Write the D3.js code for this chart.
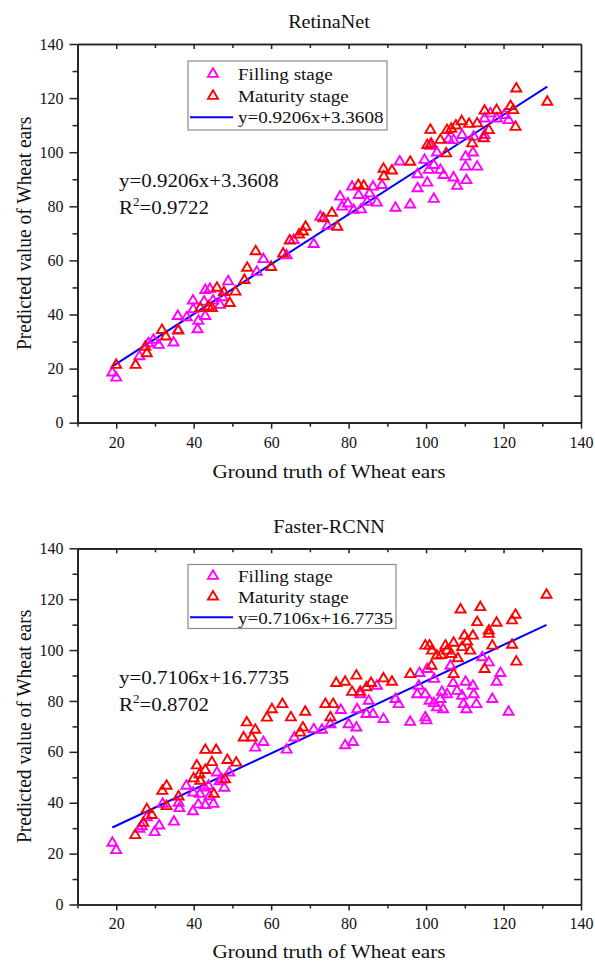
<!DOCTYPE html>
<html><head><meta charset="utf-8">
<script src="https://cdn.jsdelivr.net/npm/d3@7"></script>
<style>
body{margin:0;background:#fff}
svg{display:block}
text{font-family:"Liberation Serif","Times New Roman",serif;fill:#111}
</style>
</head><body><svg id="c" width="595" height="963"></svg>
<script>
// ---------------- data ----------------
const xTicks = [20, 40, 60, 80, 100, 120, 140];
const yTicks = [0, 20, 40, 60, 80, 100, 120, 140];
const titles = ["RetinaNet", "Faster-RCNN"];
const seriesNames = ["Filling stage", "Maturity stage"];
const slopes = [0.9206, 0.7106];
const intercepts = [3.3608, 16.7735];
const rSquared = ["0.9722", "0.8702"];
const xAxisTitle = "Ground truth of Wheat ears";
const yAxisTitle = "Predicted value of Wheat ears";

const retinaFilling = [[19,18.5],[20,16.6],[26,24.5],[28.3,29.3],[29.6,30.6],[31,28.7],[34.8,29.6],[35.9,39.4],[36,34.2],[38.2,38.9],[39.8,45.1],[39.9,41.9],[41,34.5],[41.2,37.6],[43,39.4],[43,49],[44.2,49.4],[42.7,44.7],[45,45.1],[46.8,43.5],[47.5,46.3],[48.9,52.2],[56.3,55.7],[58,60.4],[64,61.8],[65.8,67.5],
[71,66],[72.7,76.1],[74.6,72.7],[77.8,83.5],[78.3,79.8],[79.8,81],[80.9,87.2],[81.3,78.6],[82.6,84.1],[83.2,78.8],[84.8,81.6],[85.4,84.7],[86.3,87.2],[87.3,81.3],[88.6,87.8],[92.1,79.4],[93.2,96.5],[95.9,80.6],[97.8,91.8],[97.8,86.6],[99.6,97.1],[100.3,88.7],[100.7,93.4],[101.1,102.3],[102,82.7],[102,95.2],[102.8,99.8],[103.7,93.4],[104.5,91.5],[105.8,104.7],[107.1,90.6],[108,87.5],[109.3,106.3],[107.1,104.4],[110.2,98.3],[110.2,94.6],[110.4,89.6],[112.1,99.8],[112.3,105.7],[113.2,94.6],[115.1,106.3],[115.1,112.4],[116.6,114.3],[118.3,112.4],[120.2,113.7],[121.3,111.8]];

const retinaMaturity = [[20,21.3],[25,21.3],[27.9,25.6],[27.5,28],[31.8,34.2],[32.8,31.8],[36,34],[41.7,42.3],[43.8,42.9],[44.7,42.3],[46,49.8],[47.8,48.2],[49.3,44.2],[50.8,48.4],[53.1,52.7],[53.8,57.2],[56,63.3],[60,57.5],[63.1,62.5],[64.8,67.3],
[67.2,69.5],[68.2,70.6],[68.9,72.4],[73.5,75.5],[75.7,77.5],[77.1,72.4],[82.5,87.8],[83.9,87.5],[89,93.8],[89.1,91],[91.2,93.2],[95.9,96.4],[100.3,102.6],[101.1,108.2],[101.3,103.1],[103.7,104.5],[105.2,99.5],[105.4,108.1],[106.5,108.6],[107.7,109.8],[109.2,111.4],[111.1,110.4],[111.9,103.2],[113.2,110.6],[114.9,105.1],[115.1,115.3],[116.2,108.1],[118.2,115.5],[121.8,117],[122.5,115.5],[123.1,109.3],[123.3,123.5],[131.3,118.6]];

const fasterFilling = [[19,24.2],[20,21.3],[26,29.7],[26.6,30.7],[27.9,34.2],[29.9,28.4],[31.1,31],[32,39.5],[34.9,32.5],[36.1,39.9],[36.3,37.8],[38.1,46.6],[39.8,36.6],[39.9,43.9],[41.2,39.3],[41.6,43.4],[43,39],[42.8,45.9],[43.8,46.6],[44.1,42.5],[45.1,39.5],[46.7,48.4],[47.3,49.1],[47.9,45.8],[46,51.8],[49.2,51.8],[55.9,61.6],[58,63.8],[64,60.8],[66,65.6],
[71,68.8],[73.1,68.6],[75.3,70.8],[78,76.4],[79.1,62.5],[81.1,63.8],[80,70.8],[82,69.5],[82.2,76.7],[83,82.6],[84.6,74.8],[85.2,80],[86.3,74.8],[87.3,85.9],[89,72.8],[92.1,80.7],[92.9,78.7],[95.9,71.7],[99.8,73.5],[100.1,72.3],[97.7,82.6],[99.8,82.6],[98.1,85.9],[98.3,90.9],[100.3,92.5],[102.1,88.6],[100.9,80],[102,79.1],[103.7,80.7],[102.8,77.4],[104.4,76.7],[104.1,83.5],[105.4,82.6],[106.3,93.8],[107,87],[108,83.9],[109.3,82],[109.7,78.7],[110.4,76.7],[110.2,87.5],[112.1,85.9],[112.3,82.6],[113,78.7],[114.5,97.1],[116.2,95.1],[117.1,80.7],[118.2,87.5],[119.2,90.9],[121.3,75.7]];

const fasterMaturity = [[24.9,27.2],[27,32],[27.9,37.4],[29.2,35.1],[31.9,44.6],[33,46.6],[33,38.6],[36.1,42.4],[40,49.5],[41.5,51.1],[41.7,48.6],[40.8,54.6],[43,52.8],[43,60.7],[45.8,60.7],[44.7,55.9],[45.2,43.4],[48.1,49.1],[48.7,56.7],[51,55.7],[52.9,65.6],[55,65.6],[53.7,71.5],[55.9,68.6],[58.9,73.4],[60.2,76.7],[62.9,78.7],[65.1,73.5],[67.5,67.5],[68.2,69.5],[68.8,75.7],
[74,78.7],[75.3,73.5],[76,78.7],[76.8,87],[79.1,87.5],[80.9,83.5],[82,89.9],[83,83.5],[84.6,85.3],[85.8,87],[89,88.8],[91.2,87.5],[95.9,90.5],[99.8,101.7],[100.9,101.7],[101.5,99.7],[101.4,93.8],[102.8,97.8],[103.9,98],[105,101.7],[105.4,99.7],[106.5,98.4],[107.1,102.8],[107.1,90.5],[108.2,96.7],[108.9,115.9],[109.3,101.1],[109.9,105.6],[110.6,103.3],[111.4,99.7],[112.1,105.6],[113.2,110.9],[114,116.8],[115.1,92.5],[116.2,107.6],[116.2,106.3],[117.1,101.7],[118.2,110.7],[122.2,111.6],[123.1,113.8],[122.2,102],[123.3,95.4],[131.1,121.7]];

// ---------------- layout / style ----------------
const SX = 1.09; // horizontal text stretch
const FONT = '"Liberation Serif","Times New Roman",serif';
const colors = { filling: "#ff00ff", maturity: "#ff0000", fit: "#0000ff", axis: "#222" };
const panels = [
  { filling: retinaFilling, maturity: retinaMaturity, yBottom: 422.7, yTop: 44, titleY: 28,
    eqY: 187.3, r2Y: 214, xTitleY: 478, tickLabelDy: 25.8,
    legend: { x: 188, y: 61, w: 199, h: 69, rows: [74, 96, 117.3], base: [80, 101.7, 123] } },
  { filling: fasterFilling, maturity: fasterMaturity, yBottom: 904.5, yTop: 548.3, titleY: 533,
    eqY: 684, r2Y: 710.5, xTitleY: 958, tickLabelDy: 24.5,
    legend: { x: 188, y: 564.5, w: 208, h: 64, rows: [576, 596.7, 617.3], base: [582, 602.5, 623.5] } }
];

const svg = d3.select("#c");

function stext(g, x, y, str, size, anchor) {
  return g.append("text")
    .attr("transform", `translate(${x},${y}) scale(${SX},1)`)
    .attr("text-anchor", anchor || "start")
    .attr("font-family", FONT)
    .style("font-size", size + "px")
    .text(str);
}

function triPath(w, h) {
  return `M0,${-h * 2 / 3}L${w / 2},${h / 3}L${-w / 2},${h / 3}Z`;
}

function styleAxis(sel) {
  sel.attr("font-family", FONT).attr("font-size", 16);
  sel.select(".domain").attr("stroke", colors.axis).attr("stroke-width", 1.7);
  sel.selectAll(".tick line").attr("stroke", colors.axis).attr("stroke-width", 1.5);
  sel.selectAll("text").attr("fill", "#222").attr("font-family", FONT)
    .style("font-family", FONT).style("font-size", "16px");
}

panels.forEach((P, i) => {
  const g = svg.append("g");
  const x = d3.scaleLinear().domain([10, 140]).range([77.5, 581]);
  const y = d3.scaleLinear().domain([0, 140]).range([P.yBottom, P.yTop]);
  const minorX = d3.range(10, 141, 20);
  const minorY = d3.range(10, 141, 20);

  // title
  stext(g, 329, P.titleY, titles[i], 18.5, "middle");

  // left axis (outward)
  g.append("g").attr("transform", `translate(${x(10)},0)`)
    .call(d3.axisLeft(y).tickValues(minorY).tickSize(5).tickSizeOuter(0).tickFormat(""))
    .call(styleAxis);
  g.append("g").attr("transform", `translate(${x(10)},0)`)
    .call(d3.axisLeft(y).tickValues(yTicks).tickSize(8).tickPadding(6).tickSizeOuter(0).tickFormat(d3.format("d")))
    .call(styleAxis);
  // bottom axis (outward)
  g.append("g").attr("transform", `translate(0,${y(0)})`)
    .call(d3.axisBottom(x).tickValues(minorX).tickSize(4).tickSizeOuter(0).tickFormat(""))
    .call(styleAxis);
  const bx = g.append("g").attr("transform", `translate(0,${y(0)})`)
    .call(d3.axisBottom(x).tickValues(xTicks).tickSize(6).tickSizeOuter(0).tickFormat(d3.format("d")))
    .call(styleAxis);
  bx.selectAll(".tick text").attr("y", P.tickLabelDy).attr("dy", 0);
  // top axis (inward)
  g.append("g").attr("transform", `translate(0,${y(140)})`)
    .call(d3.axisTop(x).tickValues(d3.range(20, 131, 20)).tickSize(-5).tickSizeOuter(0).tickFormat(""))
    .call(styleAxis);
  g.append("g").attr("transform", `translate(0,${y(140)})`)
    .call(d3.axisTop(x).tickValues(d3.range(30, 131, 20)).tickSize(-4).tickSizeOuter(0).tickFormat(""))
    .call(styleAxis);
  // right axis (inward)
  g.append("g").attr("transform", `translate(${x(140)},0)`)
    .call(d3.axisRight(y).tickValues(d3.range(10, 131, 10)).tickSize(-7).tickSizeOuter(0).tickFormat(""))
    .call(styleAxis);

  // axis titles
  stext(g, 329, P.xTitleY, xAxisTitle, 19.5, "middle");
  g.append("text")
    .attr("transform", `translate(30.5,${(P.yBottom + P.yTop) / 2}) scale(${SX},1) rotate(-90)`)
    .attr("text-anchor", "middle").attr("font-family", FONT).style("font-size", "19.5px").text(yAxisTitle);

  // regression line
  const all = P.filling.concat(P.maturity);
  const ext = d3.extent(all, d => d[0]);
  const line = d3.line().x(d => x(d)).y(d => y(slopes[i] * d + intercepts[i]));
  g.append("path").attr("d", line(ext)).attr("fill", "none")
    .attr("stroke", colors.fit).attr("stroke-width", 2);

  // points
  const tri = triPath(10, 8.5);
  g.append("g").selectAll("path").data(P.filling).join("path")
    .attr("d", tri).attr("transform", d => `translate(${x(d[0])},${y(d[1])})`)
    .attr("fill", "none").attr("stroke", colors.filling).attr("stroke-width", 1.9);
  g.append("g").selectAll("path").data(P.maturity).join("path")
    .attr("d", tri).attr("transform", d => `translate(${x(d[0])},${y(d[1])})`)
    .attr("fill", "none").attr("stroke", colors.maturity).attr("stroke-width", 1.9);

  // equation annotation
  const eq = `y=${slopes[i].toFixed(4)}x+${intercepts[i].toFixed(4)}`;
  stext(g, 119, P.eqY, eq, 19.2, "start");
  const r2 = g.append("text")
    .attr("transform", `translate(119,${P.r2Y}) scale(${SX},1)`)
    .attr("font-family", FONT)
    .style("font-size", "19.2px");
  r2.append("tspan").text("R");
  r2.append("tspan").attr("dy", -8).style("font-size", "12px").text("2");
  r2.append("tspan").attr("dy", 8).text("=" + rSquared[i]);

  // legend
  const L = P.legend;
  g.append("rect").attr("x", L.x).attr("y", L.y).attr("width", L.w).attr("height", L.h)
    .attr("fill", "#fff").attr("stroke", "#8a8a8a").attr("stroke-width", 1.2);
  g.append("path").attr("d", tri).attr("transform", `translate(213,${L.rows[0]})`)
    .attr("fill", "none").attr("stroke", colors.filling).attr("stroke-width", 1.9);
  g.append("path").attr("d", tri).attr("transform", `translate(213,${L.rows[1]})`)
    .attr("fill", "none").attr("stroke", colors.maturity).attr("stroke-width", 1.9);
  g.append("line").attr("x1", 190).attr("x2", 233).attr("y1", L.rows[2]).attr("y2", L.rows[2])
    .attr("stroke", colors.fit).attr("stroke-width", 2);
  stext(g, 238, L.base[0], seriesNames[0], 17.5);
  stext(g, 238, L.base[1], seriesNames[1], 17.5);
  stext(g, 238, L.base[2], eq, 17.5);
});
</script>
</body></html>
